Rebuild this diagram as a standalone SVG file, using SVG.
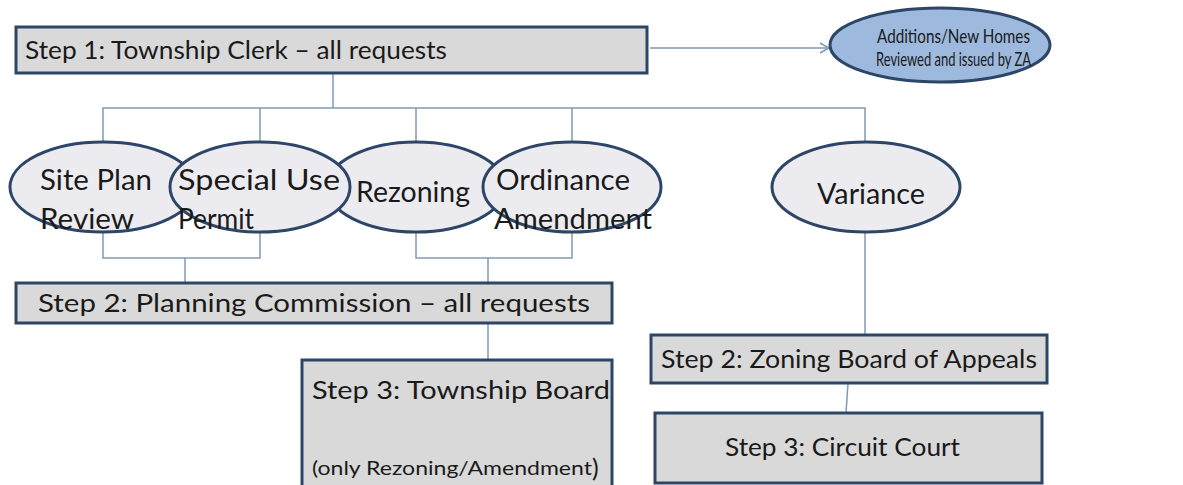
<svg xmlns="http://www.w3.org/2000/svg" width="1183" height="485" viewBox="0 0 1183 485">
<defs>
<style>
.box{fill:#d9d9d9;stroke:#2d4668;stroke-width:3}
.ell{fill:#ececf0;stroke:#2d4668;stroke-width:3}
.blue{fill:#9db9de;stroke:#2d4668;stroke-width:3}
.t{font-family:"Lato","Liberation Sans",sans-serif;font-size:25px;fill:#1a1a1a}
.e{font-family:"Lato","Liberation Sans",sans-serif;font-size:28px;fill:#1a1a1a}
.s{font-family:"Lato","Liberation Sans",sans-serif;font-size:19px;fill:#1a1a1a}
.c{fill:none;stroke:#8199b8;stroke-width:1.5}
</style>
<marker id="arr" markerWidth="12" markerHeight="12" refX="10" refY="6" orient="auto" markerUnits="userSpaceOnUse">
<path d="M1,1 L10,6 L1,11" fill="none" stroke="#8199b8" stroke-width="1.5"/>
</marker>
</defs>
<rect width="1183" height="485" fill="#ffffff"/>
<g id="connectors">
<line class="c" x1="650" y1="48" x2="829" y2="48" marker-end="url(#arr)"/>
<polyline class="c" points="333,73 333,108"/>
<polyline class="c" points="103,142 103,108 865,108 865,142"/>
<line class="c" x1="260" y1="108" x2="260" y2="142"/>
<line class="c" x1="416" y1="108" x2="416" y2="142"/>
<line class="c" x1="572" y1="108" x2="572" y2="142"/>
<polyline class="c" points="103,232 103,258 260,258 260,232"/>
<line class="c" x1="185" y1="258" x2="185" y2="283"/>
<polyline class="c" points="416,232 416,258 572,258 572,232"/>
<line class="c" x1="488" y1="258" x2="488" y2="283"/>
<line class="c" x1="488" y1="323" x2="488" y2="360"/>
<line class="c" x1="865" y1="232" x2="865" y2="335"/>
<line class="c" x1="848" y1="383" x2="846" y2="413"/>
</g>
<g id="step1">
<rect class="box" x="16" y="27" width="631" height="46"/>
<text class="t" x="25" y="59" textLength="422" lengthAdjust="spacingAndGlyphs">Step 1: Township Clerk – all requests</text>
</g>
<g id="additions">
<ellipse class="blue" cx="940" cy="45" rx="110" ry="37"/>
<text class="s" x="877" y="43" textLength="153" lengthAdjust="spacingAndGlyphs">Additions/New  Homes</text>
<text class="s" x="876" y="66" font-size="17" textLength="155" lengthAdjust="spacingAndGlyphs">Reviewed and issued by ZA</text>
</g>
<g id="site-plan">
<ellipse class="ell" cx="103" cy="187" rx="93" ry="45"/>
<text class="e" x="40" y="190" textLength="112" lengthAdjust="spacingAndGlyphs">Site Plan</text>
<text class="e" x="40" y="229" textLength="94" lengthAdjust="spacingAndGlyphs">Review</text>
</g>
<g id="rezoning">
<ellipse class="ell" cx="416" cy="187" rx="89" ry="45"/>
<text class="e" x="356" y="202" textLength="114" lengthAdjust="spacingAndGlyphs">Rezoning</text>
</g>
<g id="special-use">
<ellipse class="ell" cx="260" cy="187" rx="90" ry="45"/>
<text class="e" x="178" y="190" textLength="162" lengthAdjust="spacingAndGlyphs">Special Use</text>
<text class="e" x="178" y="229" textLength="76" lengthAdjust="spacingAndGlyphs">Permit</text>
</g>
<g id="ordinance">
<ellipse class="ell" cx="572" cy="187" rx="89" ry="45"/>
<text class="e" x="496" y="190" textLength="134" lengthAdjust="spacingAndGlyphs">Ordinance</text>
<text class="e" x="494" y="229" textLength="158" lengthAdjust="spacingAndGlyphs">Amendment</text>
</g>
<g id="variance">
<ellipse class="ell" cx="866" cy="187" rx="94" ry="45"/>
<text class="e" x="817" y="204" textLength="108" lengthAdjust="spacingAndGlyphs">Variance</text>
</g>
<g id="step2-pc">
<rect class="box" x="16" y="283" width="596" height="40"/>
<text class="t" x="38" y="312" textLength="552" lengthAdjust="spacingAndGlyphs">Step 2: Planning Commission – all requests</text>
</g>
<g id="step3-tb">
<rect class="box" x="302" y="360" width="310" height="128"/>
<text class="t" x="312" y="399" textLength="298" lengthAdjust="spacingAndGlyphs">Step 3: Township Board</text>
<text class="s" x="312" y="475" textLength="280" lengthAdjust="spacingAndGlyphs">(only Rezoning/Amendment</text>
<text class="t" x="592" y="477" font-size="28">)</text>
</g>
<g id="step2-zba">
<rect class="box" x="651" y="335" width="396" height="48"/>
<text class="t" x="661" y="368" textLength="376" lengthAdjust="spacingAndGlyphs">Step 2: Zoning Board of Appeals</text>
</g>
<g id="step3-cc">
<rect class="box" x="655" y="413" width="387" height="70"/>
<text class="t" x="725" y="456" textLength="235" lengthAdjust="spacingAndGlyphs">Step 3: Circuit Court</text>
</g>
</svg>
